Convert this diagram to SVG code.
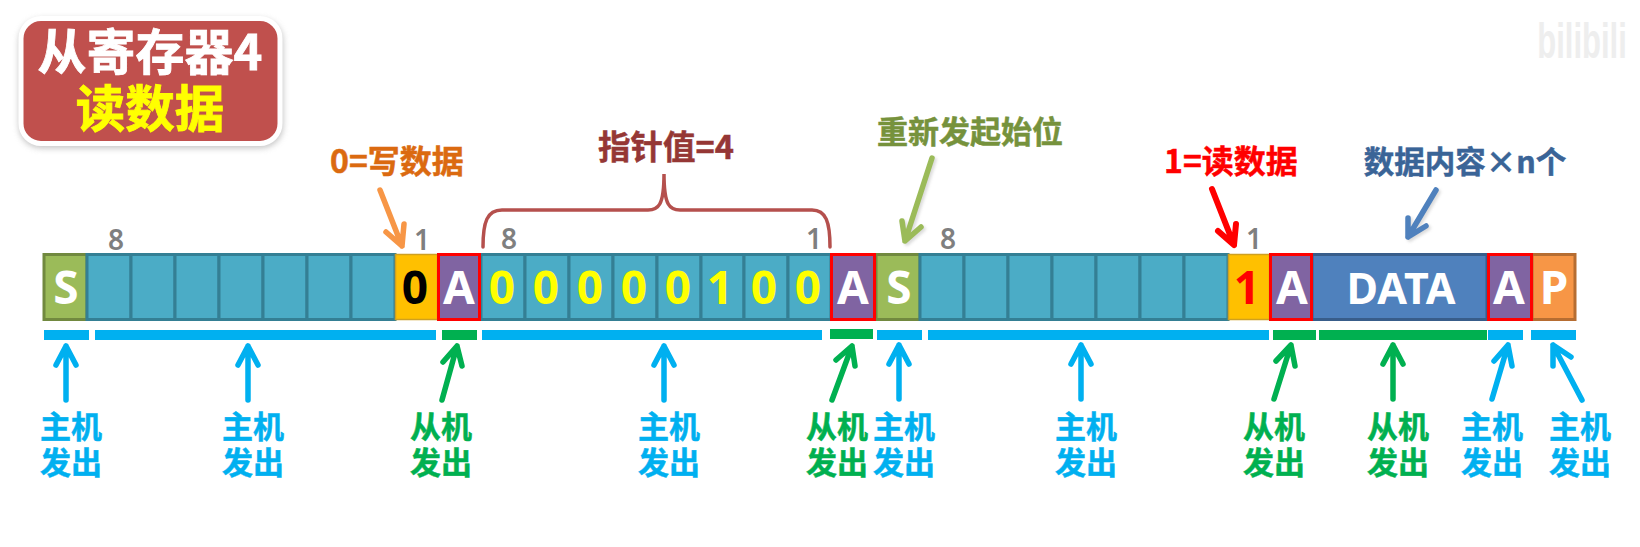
<svg xmlns="http://www.w3.org/2000/svg" width="1640" height="547" viewBox="0 0 1640 547">
<style>
text{font-family:"Noto Sans","Noto Sans CJK SC",sans-serif;font-weight:700;text-anchor:middle}
.cjk{font-family:"Noto Sans CJK SC",sans-serif}
.cell{fill:#4BACC6;stroke:#347F94;stroke-width:3}
.l{font-size:46px;fill:#fff}
.b{font-size:46px;fill:#FFFF00}
.n{font-size:28px;fill:#7F7F7F;font-weight:600}
.tag{font-size:31px}
.arrow{fill:none;stroke-width:5.500;stroke-linecap:round;stroke-linejoin:round}
.blue{stroke:#00B0F0}.green{stroke:#00B050}
.fb{fill:#00B0F0}.fg{fill:#00B050}
.fb text{stroke:#00B0F0;stroke-width:.5}.fg text{stroke:#00B050;stroke-width:.5}
#callouts text{stroke-width:.5}
</style>
<defs>
<filter id="sh" x="-10%" y="-10%" width="120%" height="130%"><feGaussianBlur stdDeviation="3"/></filter>
<filter id="s2" x="-30%" y="-30%" width="160%" height="160%"><feGaussianBlur stdDeviation="1.500"/></filter>
</defs>
<rect width="1640" height="547" fill="#fff"/>
<text transform="translate(1582 58) scale(1 1.600)" style="font-size:31px;fill:#EEEEEE;font-family:'Liberation Sans',sans-serif">bilibili</text>

<g id="title">
<rect x="19" y="19" width="264" height="129" rx="22" fill="#999" opacity=".6" filter="url(#sh)"/>
<rect x="21" y="18.500" width="259" height="125" rx="20" fill="#C0504D" stroke="#fff" stroke-width="5"/>
<text class="cjk" x="150" y="70" style="font-size:49px;fill:#fff;stroke:#fff;stroke-width:.8">从寄存器4</text>
<text class="cjk" x="150" y="127" style="font-size:49.500px;fill:#FFFF00;stroke:#FFFF00;stroke-width:.8">读数据</text>
</g>

<g id="frame">
<g id="start1"><rect x="44" y="254.500" width="43" height="65" fill="#9BBB59" stroke="#71893F" stroke-width="3"/><text class="l" x="66" y="304">S</text></g>
<g id="addr1">
<rect class="cell" x="87" y="254.500" width="44" height="65"/><rect class="cell" x="131" y="254.500" width="44" height="65"/><rect class="cell" x="175" y="254.500" width="44" height="65"/><rect class="cell" x="219" y="254.500" width="44" height="65"/><rect class="cell" x="263" y="254.500" width="44" height="65"/><rect class="cell" x="307" y="254.500" width="44" height="65"/><rect class="cell" x="351" y="254.500" width="44" height="65"/>
</g>
<g id="rw0"><rect x="395.500" y="254.500" width="42" height="65" fill="#FFC000" stroke="#CFA020" stroke-width="1.500"/><text class="l" x="415" y="304" style="fill:#000">0</text></g>
<g id="ptr">
<rect class="cell" x="481" y="254.500" width="44" height="65"/><rect class="cell" x="525" y="254.500" width="44" height="65"/><rect class="cell" x="569" y="254.500" width="44" height="65"/><rect class="cell" x="613" y="254.500" width="44" height="65"/><rect class="cell" x="657" y="254.500" width="44" height="65"/><rect class="cell" x="701" y="254.500" width="43" height="65"/><rect class="cell" x="744" y="254.500" width="44" height="65"/><rect class="cell" x="788" y="254.500" width="43" height="65"/>
<text class="b" x="502" y="304">0</text><text class="b" x="546" y="304">0</text><text class="b" x="590" y="304">0</text><text class="b" x="634" y="304">0</text><text class="b" x="678" y="304">0</text><text class="b" x="720" y="304">1</text><text class="b" x="764" y="304">0</text><text class="b" x="808" y="304">0</text>
</g>
<g id="start2"><rect x="876" y="254.500" width="44" height="65" fill="#9BBB59" stroke="#71893F" stroke-width="3"/><text class="l" x="899" y="304">S</text></g>
<g id="addr2">
<rect class="cell" x="920" y="254.500" width="44" height="65"/><rect class="cell" x="964" y="254.500" width="44" height="65"/><rect class="cell" x="1008" y="254.500" width="44" height="65"/><rect class="cell" x="1052" y="254.500" width="44" height="65"/><rect class="cell" x="1096" y="254.500" width="44" height="65"/><rect class="cell" x="1140" y="254.500" width="44" height="65"/><rect class="cell" x="1184" y="254.500" width="44" height="65"/>
</g>
<g id="rw1"><rect x="1228.500" y="254.500" width="41" height="65" fill="#FFC000" stroke="#CFA020" stroke-width="1.500"/><text class="l" x="1247" y="304" style="fill:#FF0000">1</text></g>
<g id="data"><rect x="1312" y="254.500" width="175" height="65" fill="#4F81BD" stroke="#385D8A" stroke-width="3"/><text class="l" x="1401" y="304" style="font-size:43px">DATA</text></g>
<g id="stop"><rect x="1532" y="254.500" width="43" height="65" fill="#F79646" stroke="#B66D31" stroke-width="3"/><text class="l" x="1554" y="304">P</text></g>
<g id="ack1"><rect x="438.500" y="254.500" width="41" height="65" fill="#8064A2" stroke="#FF0000" stroke-width="3"/><text class="l" x="459" y="304">A</text></g>
<g id="ack2"><rect x="831.500" y="254.500" width="43" height="65" fill="#8064A2" stroke="#FF0000" stroke-width="3"/><text class="l" x="853" y="304">A</text></g>
<g id="ack3"><rect x="1270.500" y="254.500" width="41" height="65" fill="#8064A2" stroke="#FF0000" stroke-width="3"/><text class="l" x="1292" y="304">A</text></g>
<g id="ack4"><rect x="1488.500" y="254.500" width="43" height="65" fill="#8064A2" stroke="#FF0000" stroke-width="3"/><text class="l" x="1509" y="304">A</text></g>
</g>

<g id="bit-counts">
<text class="n" x="116" y="250">8</text><text class="n" x="422" y="250">1</text>
<text class="n" x="509" y="249">8</text><text class="n" x="814" y="249">1</text>
<text class="n" x="948" y="249">8</text><text class="n" x="1254" y="249">1</text>
</g>

<g id="callouts">
<text class="cjk" x="397" y="173" style="font-size:32px;fill:#DB6A10;stroke:#DB6A10">0=写数据</text>
<text class="cjk" x="666" y="159" style="font-size:32.500px;fill:#953735;stroke:#953735">指针值=4</text>
<text class="cjk" x="970" y="143" style="font-size:31px;fill:#76923C;stroke:#76923C">重新发起始位</text>
<text class="cjk" x="1231" y="173" style="font-size:32px;fill:#FF0000;stroke:#FF0000">1=读数据</text>
<text class="cjk" x="1465" y="173" style="font-size:30.500px;fill:#3A6497;stroke:#3A6497">数据内容×n个</text>
</g>

<g id="connectors">
<path d="M483 247C483 222 487 210 502 210H648C658 210 664 206 664 174C664 206 670 210 680 210H812C826 210 830 222 830 247" fill="none" stroke="#B5504D" stroke-width="3.500" stroke-linecap="round"/>
<path class="arrow" stroke="#F79646" d="M380 190L402 246M386 232L402 246L404 224"/>
<path class="arrow" stroke="#999" opacity=".35" filter="url(#s2)" d="M934 160L907 243M904 223L907 243L923 229"/>
<path class="arrow" stroke="#9BBB59" d="M932 158L905 241M902 221L905 241L921 227"/>
<path class="arrow" stroke="#FF0000" style="stroke-width:6" d="M1212 189L1234 245M1218 231L1234 245L1236 224"/>
<path class="arrow" stroke="#999" opacity=".35" filter="url(#s2)" d="M1438 192L1410 239M1410 220L1410 239L1428 228"/>
<path class="arrow" stroke="#4F81BD" d="M1436 190L1408 237M1408 218L1408 237L1426 226"/>
<g id="bars">
<rect class="fb" x="44" y="330" width="45" height="10"/><rect class="fb" x="95" y="330" width="341" height="10"/><rect class="fg" x="442" y="330" width="35" height="10"/><rect class="fb" x="482" y="330" width="340" height="10"/><rect class="fg" x="830" y="329" width="43" height="10"/><rect class="fb" x="877" y="330" width="45" height="10"/><rect class="fb" x="928" y="330" width="341" height="10"/><rect class="fg" x="1273" y="330" width="43" height="10"/><rect class="fg" x="1319" y="330" width="168" height="10"/><rect class="fb" x="1488" y="330" width="35" height="10"/><rect class="fb" x="1531" y="330" width="45" height="10"/>
</g>
<path class="arrow blue" d="M66 400V346M56 365L66 346L76 365"/>
<path class="arrow blue" d="M248 400V346M238 365L248 346L258 365"/>
<path class="arrow green" d="M442 400L457 346M443 362L457 346L462 366"/>
<path class="arrow blue" d="M664 400V346M654 365L664 346L674 365"/>
<path class="arrow green" d="M832 400L852 346M836 360L852 346L855 366"/>
<path class="arrow blue" d="M899 399V345M889 364L899 345L909 364"/>
<path class="arrow blue" d="M1081 399V345M1071 364L1081 345L1091 364"/>
<path class="arrow green" d="M1274 399L1291 345M1276 361L1291 345L1295 366"/>
<path class="arrow green" d="M1393 399V345M1383 364L1393 345L1403 364"/>
<path class="arrow blue" d="M1492 399L1508 345M1494 361L1508 345L1512 366"/>
<path class="arrow blue" d="M1582 400L1553 345M1553 366L1553 345L1571 357"/>
</g>

<g id="sources">
<g id="src1" class="fb"><text class="cjk tag" x="71" y="438">主机</text><text class="cjk tag" x="71" y="474">发出</text></g>
<g id="src2" class="fb"><text class="cjk tag" x="253" y="438">主机</text><text class="cjk tag" x="253" y="474">发出</text></g>
<g id="src3" class="fg"><text class="cjk tag" x="441" y="438">从机</text><text class="cjk tag" x="441" y="474">发出</text></g>
<g id="src4" class="fb"><text class="cjk tag" x="669" y="438">主机</text><text class="cjk tag" x="669" y="474">发出</text></g>
<g id="src5" class="fg"><text class="cjk tag" x="837" y="438">从机</text><text class="cjk tag" x="837" y="474">发出</text></g>
<g id="src6" class="fb"><text class="cjk tag" x="904" y="438">主机</text><text class="cjk tag" x="904" y="474">发出</text></g>
<g id="src7" class="fb"><text class="cjk tag" x="1086" y="438">主机</text><text class="cjk tag" x="1086" y="474">发出</text></g>
<g id="src8" class="fg"><text class="cjk tag" x="1274" y="438">从机</text><text class="cjk tag" x="1274" y="474">发出</text></g>
<g id="src9" class="fg"><text class="cjk tag" x="1398" y="438">从机</text><text class="cjk tag" x="1398" y="474">发出</text></g>
<g id="src10" class="fb"><text class="cjk tag" x="1492" y="438">主机</text><text class="cjk tag" x="1492" y="474">发出</text></g>
<g id="src11" class="fb"><text class="cjk tag" x="1580" y="438">主机</text><text class="cjk tag" x="1580" y="474">发出</text></g>
</g>
</svg>
